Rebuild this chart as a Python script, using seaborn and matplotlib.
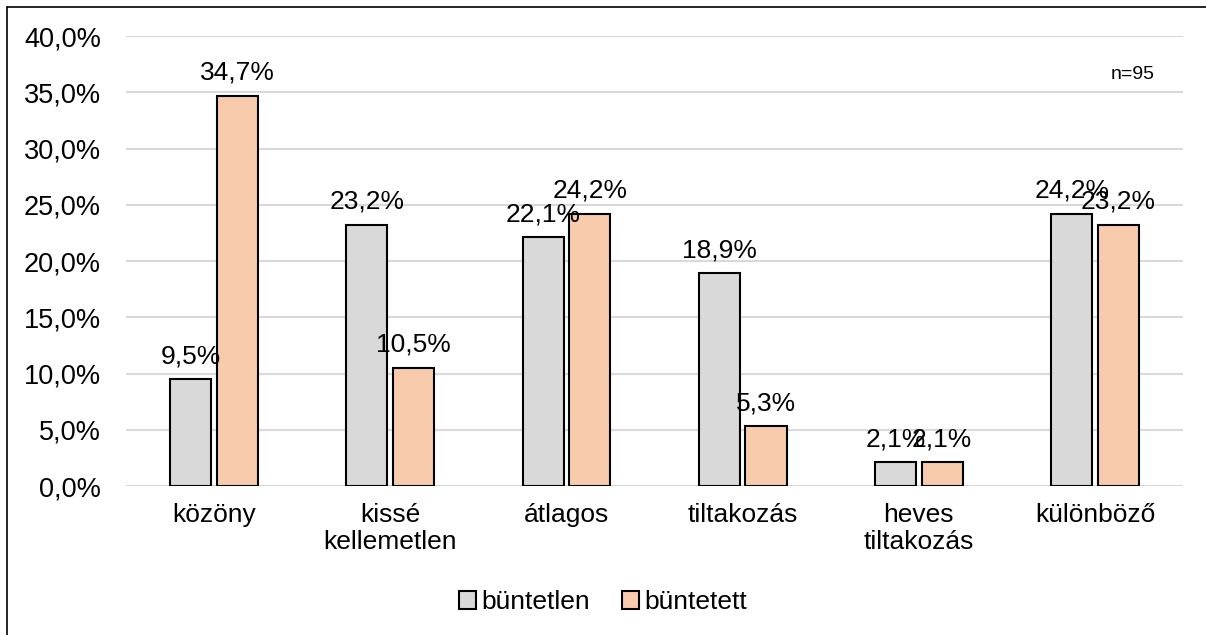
import matplotlib.pyplot as plt
import pandas as pd
import seaborn as sns
from matplotlib.lines import Line2D
from matplotlib.ticker import FuncFormatter

categories = ['közöny', 'kissé\nkellemetlen', 'átlagos', 'tiltakozás', 'heves\ntiltakozás', 'különböző']
buntetlen = [9.5, 23.2, 22.1, 18.9, 2.1, 24.2]
buntetett = [34.7, 10.5, 24.2, 5.3, 2.1, 23.2]
series = ['büntetlen', 'büntetett']
colors = ['#D9D9D9', '#F8CBAD']

df = pd.DataFrame({
    'kategoria': categories * 2,
    'csoport': [series[0]] * len(categories) + [series[1]] * len(categories),
    'ertek': buntetlen + buntetett,
})

sns.set_theme(style='white')
plt.rcParams['font.family'] = ['Liberation Sans', 'DejaVu Sans']
plt.rcParams['text.color'] = 'black'
plt.rcParams['xtick.color'] = 'black'
plt.rcParams['ytick.color'] = 'black'

fig = plt.figure(figsize=(12.06, 6.35), dpi=100)
ax = fig.add_axes([0.1045, 0.2346, 0.8765, 0.7087])

sns.barplot(data=df, x='kategoria', y='ertek', hue='csoport', palette=colors, saturation=1,
            width=0.53, gap=0.12, edgecolor='black', linewidth=1.5, ax=ax,
            legend=True, zorder=3)

ax.set_ylim(0, 40)
ax.set_yticks(range(0, 41, 5))
ax.yaxis.set_major_formatter(FuncFormatter(lambda v, p: f'{v:.1f}%'.replace('.', ',')))
ax.grid(axis='y', color='#D9D9D9', linewidth=1.5, zorder=0)
ax.set_axisbelow(True)
for s in ax.spines.values():
    s.set_visible(False)
ax.tick_params(axis='y', length=0, pad=18, labelsize=19.5, labelcolor='black')
ax.tick_params(axis='x', length=0, pad=12, labelsize=19, labelcolor='black')
ax.set_xlabel('')
ax.set_ylabel('')

for cont in ax.containers:
    ax.bar_label(cont, labels=[f'{v:.1f}%'.replace('.', ',') for v in cont.datavalues],
                 padding=8, fontsize=19, color='black')

ax.text(0.952, 0.915, 'n=95', transform=ax.transAxes, ha='center', va='center', fontsize=14)

handles, labels = ax.get_legend_handles_labels()
ax.get_legend().remove()
fig.legend(handles, labels, loc='center', bbox_to_anchor=(0.5, 0.052), ncol=2, frameon=False,
           fontsize=19, handlelength=0.65, handleheight=0.65, handletextpad=0.2, columnspacing=1.2)

# chart area border (left and top edges visible)
fig.add_artist(Line2D([7 / 1206, 7 / 1206], [0, 1 - 7 / 635], color='black', linewidth=1.2))
fig.add_artist(Line2D([7 / 1206, 1], [1 - 7 / 635, 1 - 7 / 635], color='black', linewidth=1.2))

fig.savefig('out.png', dpi=100)
